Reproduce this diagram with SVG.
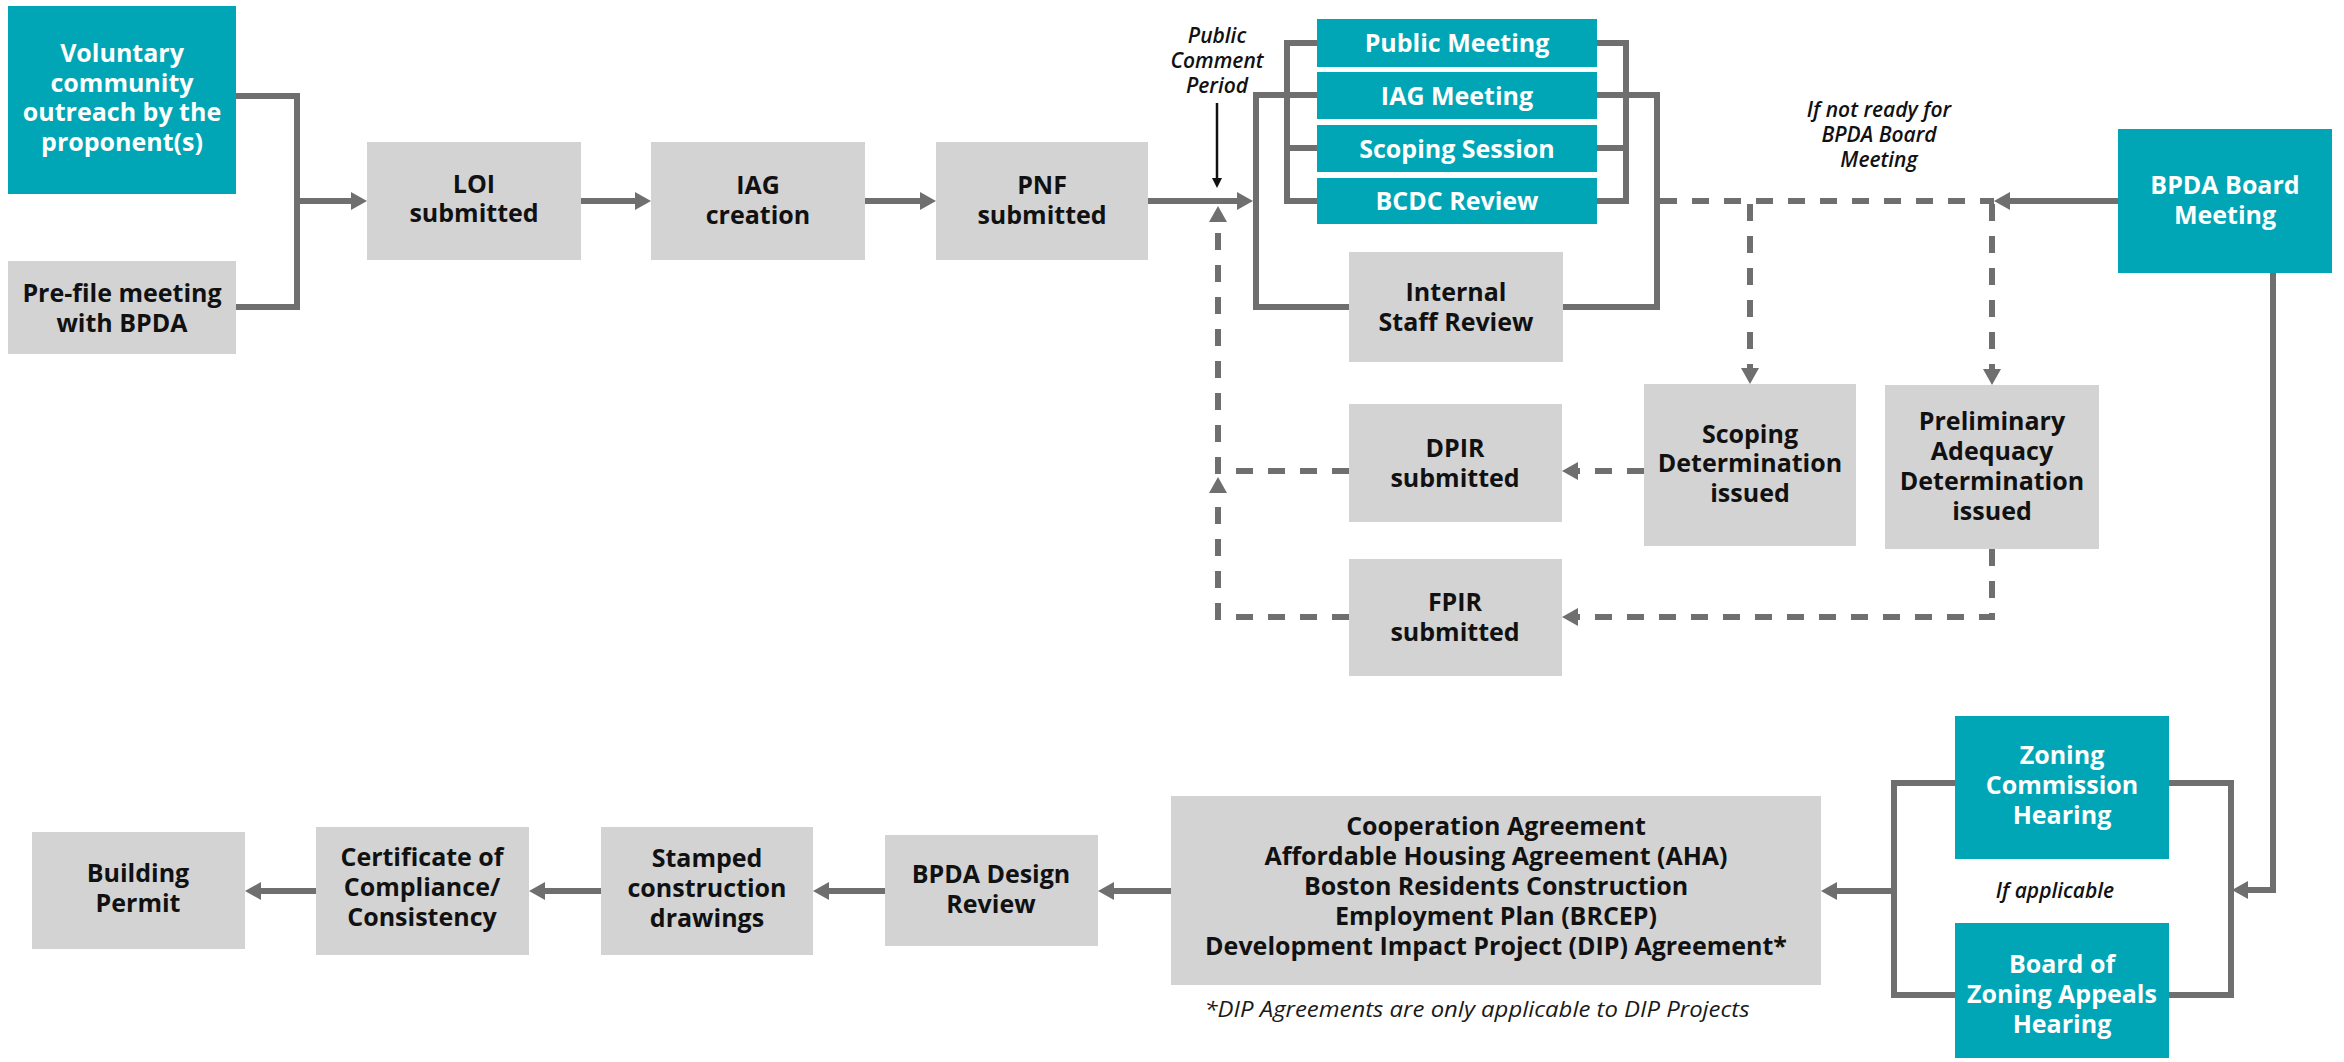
<svg xmlns="http://www.w3.org/2000/svg" width="2344" height="1062" viewBox="0 0 2344 1062">
<defs>
<style>
.teal{fill:#00A6B5}
.gray{fill:#D3D3D3}
.tw{font-family:"Open Sans","Liberation Sans",sans-serif;font-weight:700;font-size:25px;fill:#ffffff;text-anchor:middle}
.tb{font-family:"Open Sans","Liberation Sans",sans-serif;font-weight:700;font-size:25px;fill:#111111;text-anchor:middle}
.it{font-family:"Open Sans","Liberation Sans",sans-serif;font-weight:600;font-style:italic;font-size:21px;fill:#111111;text-anchor:middle}
.fn{font-family:"Open Sans","Liberation Sans",sans-serif;font-weight:400;font-style:italic;font-size:22px;fill:#1a1a1a;text-anchor:middle}
.ln{fill:none;stroke:#6F6F6F;stroke-width:6}
.dl{fill:none;stroke:#6F6F6F;stroke-width:6;stroke-dasharray:17 15}
</style>
<marker id="ah" markerUnits="userSpaceOnUse" markerWidth="16" markerHeight="18" refX="0" refY="9" orient="auto" overflow="visible">
<path d="M0,0 L16,9 L0,18 z" fill="#6F6F6F"/>
</marker>
<marker id="ahk" markerUnits="userSpaceOnUse" markerWidth="10" markerHeight="10" refX="0" refY="5" orient="auto" overflow="visible">
<path d="M0,0 L10,5 L0,10 z" fill="#111111"/>
</marker>
</defs>
<rect width="2344" height="1062" fill="#ffffff"/>

<g id="connectors">
<path class="ln" d="M236,96 H297 V307 H236"/>
<path class="ln" d="M297,201 H351" marker-end="url(#ah)"/>
<path class="ln" d="M581,201 H635" marker-end="url(#ah)"/>
<path class="ln" d="M865,201 H920" marker-end="url(#ah)"/>
<path class="ln" d="M1148,201 H1237" marker-end="url(#ah)"/>
<path class="ln" d="M1317,43 H1287 V201 H1317 M1287,148 H1317"/>
<path class="ln" d="M1597,43 H1626 V201 H1597 M1597,148 H1626"/>
<path class="ln" d="M1317,95 H1256 V307 H1349"/>
<path class="ln" d="M1597,95 H1657 V307 H1563"/>
<path class="ln" d="M2118,201 H2010" marker-end="url(#ah)"/>
<path class="ln" d="M2273,273 V890 H2248" marker-end="url(#ah)"/>
<path class="ln" d="M2169,783 H2231 V995 H2169"/>
<path class="ln" d="M1955,783 H1894 V995 H1955"/>
<path class="ln" d="M1894,891 H1837" marker-end="url(#ah)"/>
<path class="ln" d="M1171,891 H1114" marker-end="url(#ah)"/>
<path class="ln" d="M885,891 H829" marker-end="url(#ah)"/>
<path class="ln" d="M601,891 H545" marker-end="url(#ah)"/>
<path class="ln" d="M316,891 H261" marker-end="url(#ah)"/>
<path class="dl" d="M1660,201 H1994"/>
<path class="dl" d="M1750,204 V368" marker-end="url(#ah)"/>
<path class="dl" d="M1992,204 V369" marker-end="url(#ah)"/>
<path class="dl" d="M1644,471 H1578" marker-end="url(#ah)"/>
<path class="dl" d="M1992,549 V617 H1578" marker-end="url(#ah)"/>
<path class="dl" d="M1349,471 H1218 V222" marker-end="url(#ah)"/>
<path class="dl" d="M1349,617 H1218 V493" marker-end="url(#ah)"/>
<path d="M1217,103 V178" fill="none" stroke="#111111" stroke-width="2.5" marker-end="url(#ahk)"/>
</g>

<g id="labels">
<text class="it"><tspan x="1217" y="43">Public</tspan><tspan x="1217" y="68">Comment</tspan><tspan x="1217" y="93">Period</tspan></text>
<text class="it"><tspan x="1879" y="117">If not ready for</tspan><tspan x="1879" y="142">BPDA Board</tspan><tspan x="1879" y="167">Meeting</tspan></text>
<text class="it" x="2055" y="898">If applicable</text>
<text class="fn" x="1477" y="1017" textLength="545" lengthAdjust="spacingAndGlyphs">*DIP Agreements are only applicable to DIP Projects</text>
</g>

<g id="n-voluntary">
<rect class="teal" x="8" y="6" width="228" height="188"/>
<text class="tw"><tspan x="122" y="62">Voluntary</tspan><tspan x="122" y="92">community</tspan><tspan x="122" y="121">outreach by the</tspan><tspan x="122" y="151">proponent(s)</tspan></text>
</g>
<g id="n-prefile">
<rect class="gray" x="8" y="261" width="228" height="93"/>
<text class="tb"><tspan x="122" y="302">Pre-file meeting</tspan><tspan x="122" y="332">with BPDA</tspan></text>
</g>
<g id="n-loi">
<rect class="gray" x="367" y="142" width="214" height="118"/>
<text class="tb"><tspan x="474" y="193">LOI</tspan><tspan x="474" y="222">submitted</tspan></text>
</g>
<g id="n-iag">
<rect class="gray" x="651" y="142" width="214" height="118"/>
<text class="tb"><tspan x="758" y="194">IAG</tspan><tspan x="758" y="224">creation</tspan></text>
</g>
<g id="n-pnf">
<rect class="gray" x="936" y="142" width="212" height="118"/>
<text class="tb"><tspan x="1042" y="194">PNF</tspan><tspan x="1042" y="224">submitted</tspan></text>
</g>
<g id="n-public-meeting">
<rect class="teal" x="1317" y="19" width="280" height="48"/>
<text class="tw" x="1457" y="52">Public Meeting</text>
</g>
<g id="n-iag-meeting">
<rect class="teal" x="1317" y="72" width="280" height="47"/>
<text class="tw" x="1457" y="105">IAG Meeting</text>
</g>
<g id="n-scoping-session">
<rect class="teal" x="1317" y="125" width="280" height="47"/>
<text class="tw" x="1457" y="158">Scoping Session</text>
</g>
<g id="n-bcdc">
<rect class="teal" x="1317" y="178" width="280" height="46"/>
<text class="tw" x="1457" y="210">BCDC Review</text>
</g>
<g id="n-internal">
<rect class="gray" x="1349" y="252" width="214" height="110"/>
<text class="tb"><tspan x="1456" y="301">Internal</tspan><tspan x="1456" y="331">Staff Review</tspan></text>
</g>
<g id="n-dpir">
<rect class="gray" x="1349" y="404" width="213" height="118"/>
<text class="tb"><tspan x="1455" y="457">DPIR</tspan><tspan x="1455" y="487">submitted</tspan></text>
</g>
<g id="n-fpir">
<rect class="gray" x="1349" y="559" width="213" height="117"/>
<text class="tb"><tspan x="1455" y="611">FPIR</tspan><tspan x="1455" y="641">submitted</tspan></text>
</g>
<g id="n-scoping-determination">
<rect class="gray" x="1644" y="384" width="212" height="162"/>
<text class="tb"><tspan x="1750" y="443">Scoping</tspan><tspan x="1750" y="472">Determination</tspan><tspan x="1750" y="502">issued</tspan></text>
</g>
<g id="n-preliminary">
<rect class="gray" x="1885" y="385" width="214" height="164"/>
<text class="tb"><tspan x="1992" y="430">Preliminary</tspan><tspan x="1992" y="460">Adequacy</tspan><tspan x="1992" y="490">Determination</tspan><tspan x="1992" y="520">issued</tspan></text>
</g>
<g id="n-bpda-board">
<rect class="teal" x="2118" y="129" width="214" height="144"/>
<text class="tw"><tspan x="2225" y="194">BPDA Board</tspan><tspan x="2225" y="224">Meeting</tspan></text>
</g>
<g id="n-zoning-commission">
<rect class="teal" x="1955" y="716" width="214" height="143"/>
<text class="tw"><tspan x="2062" y="764">Zoning</tspan><tspan x="2062" y="794">Commission</tspan><tspan x="2062" y="824">Hearing</tspan></text>
</g>
<g id="n-zoning-appeals">
<rect class="teal" x="1955" y="923" width="214" height="135"/>
<text class="tw"><tspan x="2062" y="973">Board of</tspan><tspan x="2062" y="1003">Zoning Appeals</tspan><tspan x="2062" y="1033">Hearing</tspan></text>
</g>
<g id="n-agreements">
<rect class="gray" x="1171" y="796" width="650" height="189"/>
<text class="tb"><tspan x="1496" y="835">Cooperation Agreement</tspan><tspan x="1496" y="865">Affordable Housing Agreement (AHA)</tspan><tspan x="1496" y="895">Boston Residents Construction</tspan><tspan x="1496" y="925">Employment Plan (BRCEP)</tspan><tspan x="1496" y="955">Development Impact Project (DIP) Agreement*</tspan></text>
</g>
<g id="n-design-review">
<rect class="gray" x="885" y="835" width="213" height="111"/>
<text class="tb"><tspan x="991" y="883">BPDA Design</tspan><tspan x="991" y="913">Review</tspan></text>
</g>
<g id="n-stamped">
<rect class="gray" x="601" y="827" width="212" height="128"/>
<text class="tb"><tspan x="707" y="867">Stamped</tspan><tspan x="707" y="897">construction</tspan><tspan x="707" y="927">drawings</tspan></text>
</g>
<g id="n-certificate">
<rect class="gray" x="316" y="827" width="213" height="128"/>
<text class="tb"><tspan x="422" y="866">Certificate of</tspan><tspan x="422" y="896">Compliance/</tspan><tspan x="422" y="926">Consistency</tspan></text>
</g>
<g id="n-building-permit">
<rect class="gray" x="32" y="832" width="213" height="117"/>
<text class="tb"><tspan x="138" y="882">Building</tspan><tspan x="138" y="912">Permit</tspan></text>
</g>
</svg>
